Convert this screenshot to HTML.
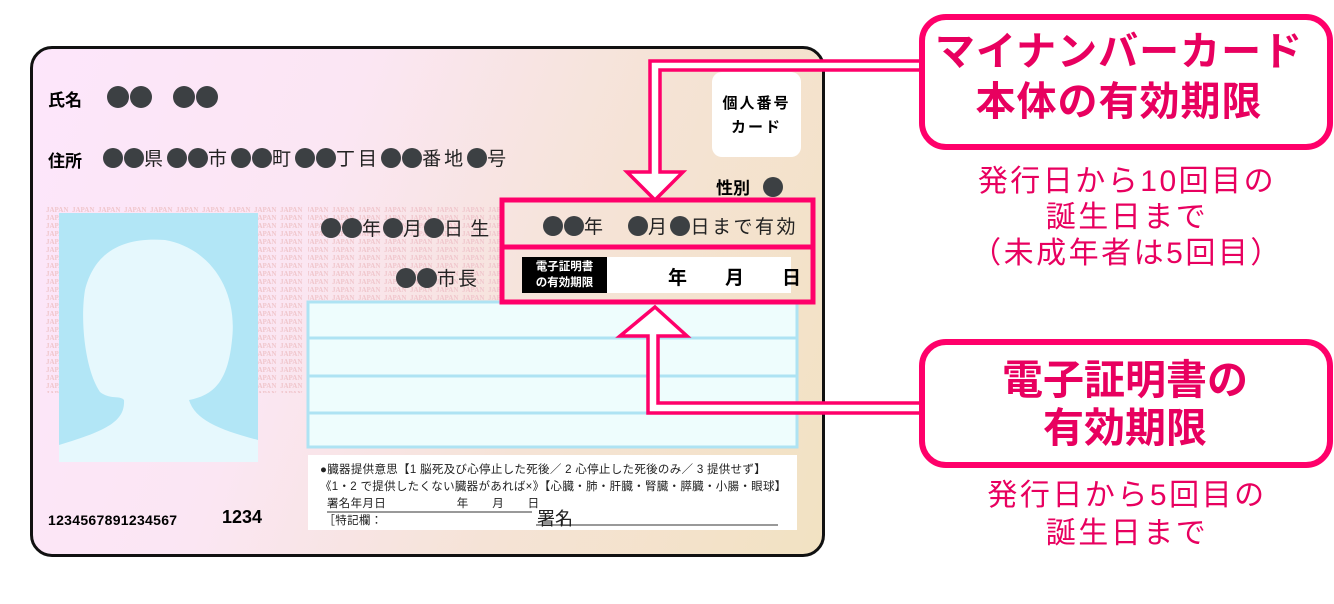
<!DOCTYPE html>
<html><head><meta charset="utf-8"><style>
body{margin:0;width:1334px;height:604px;background:#fff;position:relative;overflow:hidden;font-family:"Liberation Sans","Noto Sans CJK JP",sans-serif;}
.a{position:absolute;white-space:nowrap;}
.card{position:absolute;left:30px;top:46px;width:789px;height:505px;border:3px solid #111;border-radius:22px;background:linear-gradient(110deg,#fde6fb 0%,#fbe6f3 35%,#f5e3d6 65%,#f2e2c2 100%);overflow:hidden;}
.c{display:inline-block;width:20px;height:20px;border-radius:50%;background:#3c4043;vertical-align:-3px;margin:0 0.5px;}
.pk{color:#e8005f;}
</style></head><body>
<div class="card"></div>
<svg class="a" style="left:0;top:0" width="1334" height="604">
<defs><pattern id="jp" x="46" y="205" width="26" height="8" patternUnits="userSpaceOnUse"><text x="0" y="7" font-size="7" font-family="Liberation Serif" font-weight="bold" fill="#f0c6cc">JAPAN</text></pattern></defs>
<rect x="46" y="205" width="260" height="188" fill="url(#jp)"/>
<rect x="308" y="205" width="192" height="95" fill="url(#jp)"/>
<rect x="59" y="213" width="199" height="249" fill="#b2e6f6"/>
<path d="M59 445 C110 430 125 420 124 400 C120 395 110 400 100 392 C85 370 80 320 85 290 C95 250 125 237 165 240 C210 248 238 290 232 340 C228 380 215 395 189 400 C195 420 220 430 258 440 L258 462 L59 462 Z" fill="#e6f8fd"/>
<rect x="712" y="72" width="89" height="85" rx="10" fill="#fff"/>
<rect x="308" y="302" width="489" height="145" fill="#eefdfd" stroke="#aee3f3" stroke-width="3"/>
<line x1="308" y1="338" x2="797" y2="338" stroke="#aee3f3" stroke-width="3"/>
<line x1="308" y1="376" x2="797" y2="376" stroke="#aee3f3" stroke-width="3"/>
<line x1="308" y1="413" x2="797" y2="413" stroke="#aee3f3" stroke-width="3"/>
<rect x="308" y="455" width="489" height="75" fill="#fff"/>
<line x1="327" y1="512" x2="532" y2="512" stroke="#333" stroke-width="1"/>
<line x1="536" y1="525" x2="778" y2="525" stroke="#333" stroke-width="1"/>
<rect x="522" y="257" width="269" height="36" fill="#fff"/>
<rect x="522" y="257" width="85" height="36" fill="#000"/>
<rect x="502" y="200" width="311" height="102" fill="none" stroke="#ff006a" stroke-width="5"/>
<line x1="502" y1="247" x2="813" y2="247" stroke="#ff006a" stroke-width="5"/>
<path d="M922 61 L650 61 L650 172 L627 172 L655 200 L683 172 L660 172 L660 70 L922 70" fill="#fff" stroke="#ff006a" stroke-width="3.5"/>
<path d="M655 307 L687 336 L658 336 L658 403 L922 403 L922 413 L648 413 L648 336 L620 336 Z" fill="#fff" stroke="#ff006a" stroke-width="3.5"/>
<rect x="922" y="17" width="408" height="130" rx="24" fill="#fff" stroke="#ff006a" stroke-width="6"/>
<rect x="922" y="342" width="408" height="123" rx="24" fill="#fff" stroke="#ff006a" stroke-width="6"/>
</svg>
<div class="a" style="left:48px;top:86px;font-size:17px;font-weight:bold">氏名</div>
<div class="a" style="left:106px;top:86px;font-size:20px"><span class="c" style="width:22px;height:22px"></span><span class="c" style="width:22px;height:22px"></span><span style="display:inline-block;width:20px"></span><span class="c" style="width:22px;height:22px"></span><span class="c" style="width:22px;height:22px"></span></div>
<div class="a" style="left:48px;top:147px;font-size:17px;font-weight:bold">住所</div>
<div class="a" style="left:102px;top:144px;font-size:19px;color:#222;letter-spacing:3px"><span class="c"></span><span class="c"></span>県<span class="c"></span><span class="c"></span>市<span class="c"></span><span class="c"></span>町<span class="c"></span><span class="c"></span>丁目<span class="c"></span><span class="c"></span>番地<span class="c"></span>号</div>
<div class="a" style="left:712px;top:92px;width:89px;text-align:center;font-size:15px;font-weight:bold;line-height:24px;letter-spacing:2px">個人番号<br>カード</div>
<div class="a" style="left:716px;top:174px;font-size:17px;font-weight:bold">性別 <span class="c" style="margin-left:8px"></span></div>
<div class="a" style="left:320px;top:214px;font-size:19px;color:#222;letter-spacing:1px"><span class="c"></span><span class="c"></span>年<span class="c"></span>月<span class="c"></span>日 生</div>
<div class="a" style="left:395px;top:264px;font-size:19px;color:#222;letter-spacing:2px"><span class="c"></span><span class="c"></span>市長</div>
<div class="a" style="left:542px;top:212px;font-size:19px;color:#222;letter-spacing:2.5px"><span class="c"></span><span class="c"></span>年　<span class="c"></span>月<span class="c"></span>日まで有効</div>
<div class="a" style="left:522px;top:259px;width:85px;text-align:center;color:#fff;font-size:11.5px;font-weight:bold;line-height:16px">電子証明書<br>の有効期限</div>
<div class="a" style="left:668px;top:263px;font-size:19px;font-weight:bold">年　　月　　日</div>
<div class="a" style="left:320px;top:462px;font-size:11.5px;color:#222;line-height:17px;letter-spacing:0.3px">●臓器提供意思【1 脳死及び心停止した死後／ 2 心停止した死後のみ／ 3 提供せず】<br>《1・2 で提供したくない臓器があれば×》【心臓・肺・肝臓・腎臓・膵臓・小腸・眼球】<br>&nbsp;&nbsp;署名年月日　　　　　　年　　月　　日<br>&nbsp;［特記欄：　　　　　　　　　　　　　　　］</div>
<div class="a" style="left:537px;top:505px;font-size:18px;color:#222">署名</div>
<div class="a" style="left:48px;top:512px;font-size:14px;font-weight:bold;letter-spacing:0.3px">1234567891234567</div>
<div class="a" style="left:222px;top:507px;font-size:18px;font-weight:bold">1234</div>
<div class="a" style="left:912px;top:27px;width:414px;text-align:center;font-size:40px;font-weight:bold;color:#e8005f;line-height:50px;letter-spacing:1px">マイナンバーカード<br>本体の有効期限</div>
<div class="a pk" style="left:920px;top:164px;width:414px;text-align:center;font-size:30px;line-height:36px;letter-spacing:2.5px">発行日から10回目の<br>誕生日まで<br>（未成年者は5回目）</div>
<div class="a" style="left:918px;top:356px;width:414px;text-align:center;font-size:41px;font-weight:bold;color:#e8005f;line-height:48px">電子証明書の<br>有効期限</div>
<div class="a pk" style="left:920px;top:477px;width:414px;text-align:center;font-size:30px;line-height:38px;letter-spacing:2.5px">発行日から5回目の<br>誕生日まで</div>
</body></html>
